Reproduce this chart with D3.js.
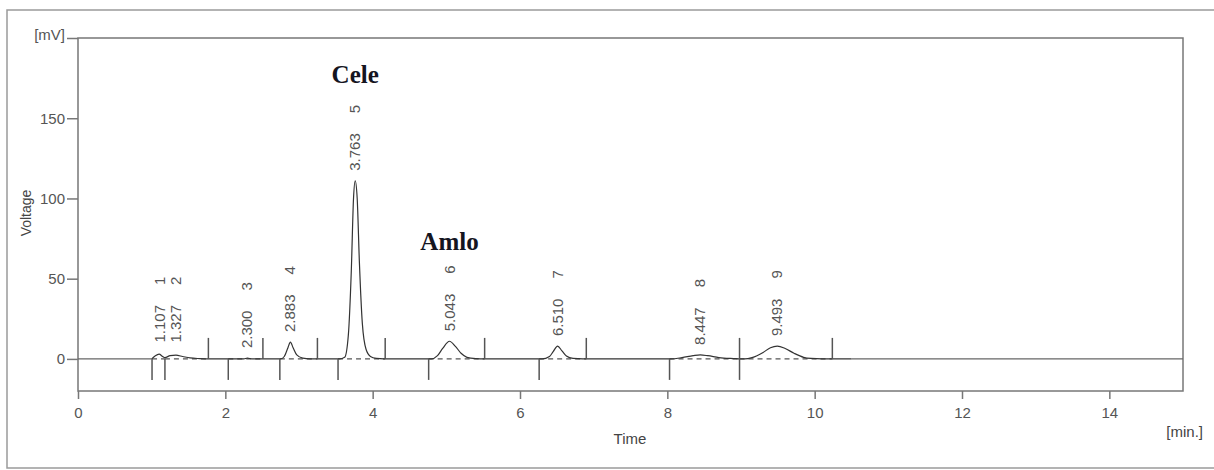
<!DOCTYPE html>
<html>
<head>
<meta charset="utf-8">
<script src="https://cdn.jsdelivr.net/npm/d3@7"></script>
<style>
  body { margin: 0; background: #fff; }
  svg { display: block; }
  text { font-family: "Liberation Sans", Arial, sans-serif; fill: #444; }
</style>
</head>
<body>
<svg id="chart" width="1214" height="470"></svg>
<script>
// Chromatogram trace: [time (min), signal (mV)]
const trace = [
  [1.00, 0], [1.05, 2.0], [1.10, 3.0], [1.15, 1.5], [1.18, 0.8], [1.25, 2.0], [1.33, 2.3],
  [1.42, 1.5], [1.52, 0.6], [1.65, 0.2], [1.80, 0],
  [2.25, 0], [2.30, 0.5], [2.36, 0],
  [2.75, 0], [2.80, 1.5], [2.85, 7], [2.883, 10.5], [2.92, 7], [2.97, 2.5], [3.05, 0.5], [3.15, 0],
  [3.55, 0], [3.62, 1], [3.67, 15], [3.71, 55], [3.74, 100], [3.763, 111], [3.79, 100],
  [3.82, 60], [3.86, 22], [3.91, 6], [3.97, 1.5], [4.05, 0.3], [4.15, 0],
  [4.80, 0], [4.88, 2], [4.95, 6.5], [5.043, 11], [5.12, 8], [5.20, 3.5], [5.28, 1], [5.40, 0.2], [5.52, 0],
  [6.30, 0], [6.40, 1.5], [6.45, 4.5], [6.51, 8], [6.57, 5], [6.63, 1.8], [6.72, 0.3], [6.85, 0],
  [8.05, 0], [8.20, 0.8], [8.35, 2], [8.447, 2.5], [8.55, 2], [8.70, 0.8], [8.90, 0.2], [9.00, 0],
  [9.05, 0], [9.15, 0.8], [9.30, 4], [9.40, 7], [9.493, 8], [9.60, 6.5], [9.72, 3.5], [9.85, 1],
  [9.95, 0.3], [10.10, 0], [10.50, 0]
];

// Peak table
const peakNumbers = [1, 2, 3, 4, 5, 6, 7, 8, 9];
const peakTimes = ["1.107", "1.327", "2.300", "2.883", "3.763", "5.043", "6.510", "8.447", "9.493"];
const peakHeights = [4, 4, 0.5, 10.5, 111, 11, 8, 2.5, 8];

// Integration marks (min)
const peakStarts = [1.005, 1.18, 2.04, 2.74, 3.53, 4.76, 6.26, 8.03, 8.98];
const peakEnds = [1.18, 1.77, 2.51, 3.25, 4.17, 5.52, 6.90, 8.98, 10.24];
const endMarks = [1.77, 2.51, 3.25, 4.17, 5.52, 6.90, 8.98, 10.24];

// Compound annotations
const compounds = [
  { name: "Cele", time: 3.763, level: 172 },
  { name: "Amlo", time: 5.043, level: 68 },
];

const xTicks = [0, 2, 4, 6, 8, 10, 12, 14];
const yTicks = [0, 50, 100, 150, 200];

const svg = d3.select("#chart");
const plotLeft = 78, plotRight = 1183, plotTop = 38, plotBottom = 391;

const x = d3.scaleLinear().domain([0, 15]).range([plotLeft, plotRight]);
const y = d3.scaleLinear().domain([-20, 200]).range([plotBottom, plotTop]);

// Outer frame
svg.append("rect")
  .attr("x", 7).attr("y", 10)
  .attr("width", 1230).attr("height", 458)
  .attr("fill", "none")
  .attr("stroke", "#9a9a9a")
  .attr("stroke-width", 1.5);

// Plot frame
svg.append("rect")
  .attr("x", plotLeft).attr("y", plotTop)
  .attr("width", plotRight - plotLeft).attr("height", plotBottom - plotTop)
  .attr("fill", "none")
  .attr("stroke", "#777")
  .attr("stroke-width", 1.5);

// Axes
const xAxis = svg.append("g")
  .attr("transform", `translate(0,${plotBottom})`)
  .call(d3.axisBottom(x).tickValues(xTicks).tickSize(8).tickPadding(8).tickFormat(d3.format("d")));
const yAxis = svg.append("g")
  .attr("transform", `translate(${plotLeft},0)`)
  .call(d3.axisLeft(y).tickValues(yTicks).tickSize(11).tickPadding(2)
    .tickFormat((d) => (d === 200 ? "[mV]" : d)));

for (const ax of [xAxis, yAxis]) {
  ax.select(".domain").remove();
  ax.selectAll(".tick line").attr("stroke", "#777").attr("stroke-width", 1.5);
  ax.selectAll(".tick text").attr("font-size", 15).style("fill", "#555");
}
yAxis.selectAll(".tick text").filter((d) => d === 200).attr("dy", "0.1em");

// Axis titles
svg.append("text")
  .attr("x", 630).attr("y", 444)
  .attr("text-anchor", "middle")
  .attr("font-size", 15)
  .text("Time");
svg.append("text")
  .attr("x", 1203).attr("y", 437)
  .attr("text-anchor", "end")
  .attr("font-size", 15)
  .text("[min.]");
svg.append("text")
  .attr("transform", "translate(31,213) rotate(-90)")
  .attr("text-anchor", "middle")
  .attr("font-size", 14)
  .text("Voltage");

// Zero line outside the trace
const traceExtent = d3.extent(trace, (d) => d[0]);
svg.append("g")
  .selectAll("line")
  .data([[0, traceExtent[0]], [traceExtent[1], 15]])
  .join("line")
  .attr("x1", (d) => x(d[0]))
  .attr("x2", (d) => x(d[1]))
  .attr("y1", y(0))
  .attr("y2", y(0))
  .attr("stroke", "#666")
  .attr("stroke-width", 1.2);

// Dashed integration baselines
svg.append("g")
  .selectAll("line")
  .data(peakStarts.map((s, i) => [s, peakEnds[i]]))
  .join("line")
  .attr("x1", (d) => x(d[0]))
  .attr("x2", (d) => x(d[1]))
  .attr("y1", y(0))
  .attr("y2", y(0))
  .attr("stroke", "#555")
  .attr("stroke-width", 1.2)
  .attr("stroke-dasharray", "5,4");

// Trace
const line = d3.line()
  .x((d) => x(d[0]))
  .y((d) => y(d[1]))
  .curve(d3.curveMonotoneX);
svg.append("path")
  .datum(trace)
  .attr("d", line)
  .attr("fill", "none")
  .attr("stroke", "#333")
  .attr("stroke-width", 1.2);

// Start marks (down) and end marks (up)
const markLen = 21;
svg.append("g")
  .selectAll("line")
  .data(peakStarts)
  .join("line")
  .attr("x1", (d) => x(d)).attr("x2", (d) => x(d))
  .attr("y1", y(0)).attr("y2", y(0) + markLen)
  .attr("stroke", "#555")
  .attr("stroke-width", 1.5);
svg.append("g")
  .selectAll("line")
  .data(endMarks)
  .join("line")
  .attr("x1", (d) => x(d)).attr("x2", (d) => x(d))
  .attr("y1", y(0)).attr("y2", y(0) - markLen)
  .attr("stroke", "#555")
  .attr("stroke-width", 1.5);

// Peak labels (vertical)
const labels = svg.append("g")
  .selectAll("text")
  .data(peakNumbers)
  .join("text")
  .attr("transform", (d, i) => `translate(${x(+peakTimes[i]) + 5},${y(peakHeights[i]) - 10}) rotate(-90)`)
  .attr("font-size", 15)
  .style("fill", "#555");
labels.append("tspan").text((d, i) => peakTimes[i]);
labels.append("tspan").attr("dx", 20).text((d) => d);

// Compound names
svg.append("g")
  .selectAll("text")
  .data(compounds)
  .join("text")
  .attr("x", (d) => x(d.time))
  .attr("y", (d) => y(d.level))
  .attr("text-anchor", "middle")
  .style("font-family", "'Liberation Serif', 'Times New Roman', serif")
  .style("font-weight", "bold")
  .style("font-size", "25px")
  .style("fill", "#15151f")
  .text((d) => d.name);
</script>
</body>
</html>
